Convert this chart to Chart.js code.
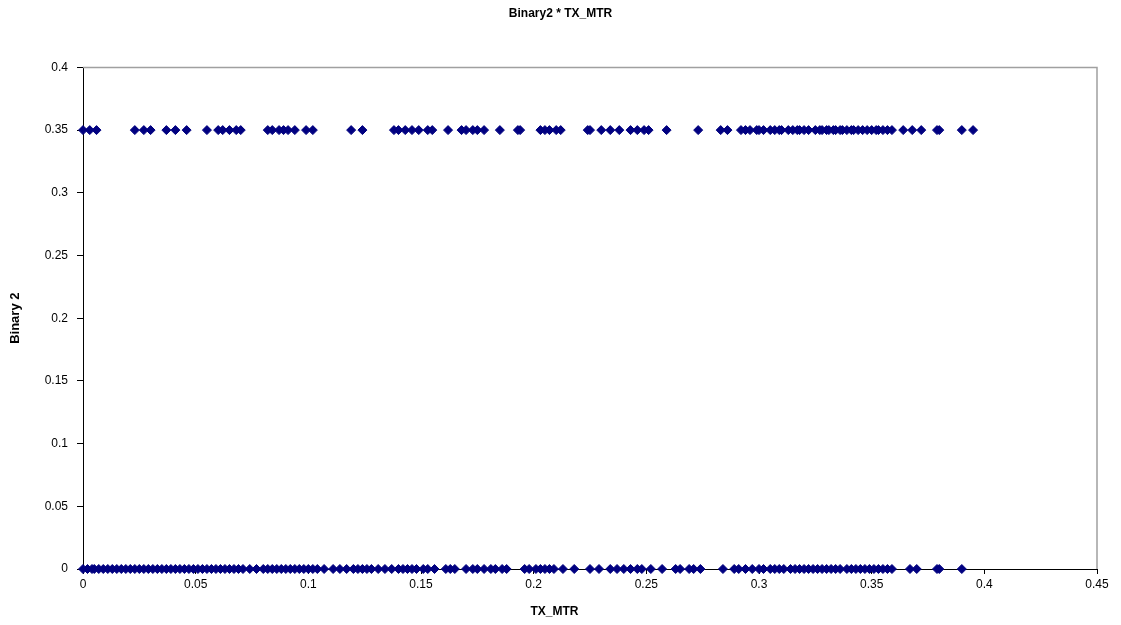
<!DOCTYPE html>
<html>
<head>
<meta charset="utf-8">
<title>Binary2 * TX_MTR</title>
<script src="https://cdn.jsdelivr.net/npm/chart.js@4.4.1/dist/chart.umd.min.js"></script>
<style>
  html, body { margin: 0; padding: 0; background: #fff; }
  #wrap { width: 1121px; height: 625px; }
</style>
</head>
<body>
<div id="wrap"><canvas id="chart" width="1121" height="625"></canvas></div>
<script>
// TX_MTR values, for the points at Binary2 = 0.35
const topX = [
  0.000, 0.003, 0.006, 0.023, 0.027, 0.030, 0.037, 0.041, 0.046, 0.055,
  0.060, 0.062, 0.065, 0.068, 0.070, 0.082, 0.084, 0.087, 0.089, 0.091,
  0.094, 0.099, 0.102, 0.119, 0.124, 0.138, 0.140, 0.143, 0.146, 0.149,
  0.153, 0.155, 0.162, 0.168, 0.170, 0.173, 0.175, 0.178, 0.185, 0.193,
  0.194, 0.203, 0.205, 0.207, 0.210, 0.212, 0.224, 0.225, 0.230, 0.234,
  0.238, 0.243, 0.246, 0.249, 0.251, 0.259, 0.273, 0.283, 0.286, 0.292,
  0.294, 0.296, 0.299, 0.300, 0.302, 0.305, 0.307, 0.309, 0.310, 0.313,
  0.315, 0.317, 0.318, 0.320, 0.322, 0.325, 0.327, 0.328, 0.330, 0.331,
  0.333, 0.334, 0.336, 0.337, 0.339, 0.341, 0.342, 0.344, 0.346, 0.348,
  0.350, 0.352, 0.353, 0.355, 0.357, 0.359, 0.364, 0.368, 0.372, 0.379,
  0.380, 0.390, 0.395
];
const topY = 0.35;

// TX_MTR values for the points at Binary2 = 0
const bottomX = [
  0.000, 0.002, 0.004, 0.005, 0.007, 0.009, 0.011, 0.013, 0.015, 0.017,
  0.019, 0.021, 0.023, 0.025, 0.027, 0.029, 0.031, 0.033, 0.035, 0.037,
  0.039, 0.041, 0.043, 0.045, 0.047, 0.049, 0.051, 0.053, 0.055, 0.057,
  0.059, 0.061, 0.063, 0.065, 0.067, 0.069, 0.071, 0.074, 0.077, 0.080,
  0.082, 0.084, 0.086, 0.088, 0.090, 0.092, 0.094, 0.096, 0.098, 0.100,
  0.102, 0.104, 0.107, 0.111, 0.114, 0.117, 0.120, 0.122, 0.124, 0.126,
  0.128, 0.131, 0.134, 0.137, 0.140, 0.142, 0.144, 0.146, 0.148, 0.151,
  0.153, 0.156, 0.161, 0.163, 0.165, 0.170, 0.173, 0.175, 0.178, 0.181,
  0.183, 0.186, 0.188, 0.196, 0.198, 0.201, 0.203, 0.205, 0.207, 0.209,
  0.213, 0.218, 0.225, 0.229, 0.234, 0.237, 0.240, 0.243, 0.246, 0.248,
  0.252, 0.257, 0.263, 0.265, 0.269, 0.271, 0.274, 0.284, 0.289, 0.291,
  0.294, 0.297, 0.300, 0.302, 0.305, 0.307, 0.309, 0.311, 0.314, 0.316,
  0.318, 0.320, 0.322, 0.324, 0.326, 0.328, 0.330, 0.332, 0.334, 0.336,
  0.339, 0.341, 0.343, 0.345, 0.347, 0.349, 0.351, 0.353, 0.355, 0.357,
  0.359, 0.367, 0.370, 0.379, 0.380, 0.390
];
const bottomY = 0;

const xTicks = [0, 0.05, 0.1, 0.15, 0.2, 0.25, 0.3, 0.35, 0.4, 0.45];
const yTicks = [0, 0.05, 0.1, 0.15, 0.2, 0.25, 0.3, 0.35, 0.4];
const xTitle = 'TX_MTR';

const points = [
  ...topX.map((x) => ({ x, y: topY })),
  ...bottomX.map((x) => ({ x, y: bottomY })),
];

const FONT = '"Liberation Sans", Arial, sans-serif';

// gray frame on the top and right of the plot area,
// and the x axis title, centred on the whole picture like the reference
const frame = {
  id: 'frame',
  beforeDatasetsDraw(chart) {
    const { ctx, chartArea: a } = chart;
    ctx.save();
    ctx.strokeStyle = '#a0a0a0';
    ctx.lineWidth = 1.5;
    ctx.beginPath();
    ctx.moveTo(a.left, a.top);
    ctx.lineTo(a.right, a.top);
    ctx.lineTo(a.right, a.bottom);
    ctx.stroke();
    ctx.restore();
  },
  afterDraw(chart) {
    const { ctx } = chart;
    ctx.save();
    ctx.fillStyle = '#000';
    ctx.font = `bold 12px ${FONT}`;
    ctx.textAlign = 'center';
    ctx.textBaseline = 'middle';
    ctx.fillText(xTitle, chart.width / 2 - 6, 612);
    ctx.restore();
  },
};

new Chart(document.getElementById('chart'), {
  type: 'scatter',
  data: {
    datasets: [{
      label: 'Binary2',
      data: points,
      pointStyle: 'rectRot',
      pointRadius: 4.5,
      pointHoverRadius: 4.5,
      backgroundColor: '#000080',
      borderColor: '#000080',
      borderWidth: 1,
      clip: false,
    }],
  },
  options: {
    responsive: false,
    animation: false,
    layout: { padding: 0 },
    plugins: {
      legend: { display: false },
      tooltip: { enabled: false },
      title: {
        display: true,
        text: 'Binary2 * TX_MTR',
        color: '#000',
        font: { family: FONT, size: 12, weight: 'bold' },
        padding: { top: 6, bottom: 47 },
      },
    },
    scales: {
      x: {
        type: 'linear',
        min: 0,
        max: 0.45,
        afterBuildTicks: (s) => { s.ticks = xTicks.map((v) => ({ value: v })); },
        afterFit: (s) => { s.height = 56; },
        ticks: {
          color: '#000',
          font: { family: FONT, size: 12 },
          padding: 3,
          maxRotation: 0,
          callback: (v) => String(v),
        },
        grid: { drawOnChartArea: false, drawTicks: true, tickLength: 5, color: '#000' },
        border: { color: '#000', width: 1 },
        title: { display: false },
      },
      y: {
        type: 'linear',
        min: 0,
        max: 0.4,
        afterBuildTicks: (s) => { s.ticks = yTicks.map((v) => ({ value: v })); },
        afterFit: (s) => { s.width = 83; },
        ticks: {
          color: '#000',
          font: { family: FONT, size: 12 },
          padding: 9,
          callback: (v) => String(v),
        },
        grid: { drawOnChartArea: false, drawTicks: true, tickLength: 6, color: '#000' },
        border: { color: '#000', width: 1 },
        title: {
          display: true,
          text: 'Binary 2',
          color: '#000',
          font: { family: FONT, size: 13, weight: 'bold' },
          padding: { top: 8, bottom: 0 },
        },
      },
      // empty strip on the right so the plot ends where the reference does
      yRight: {
        type: 'linear',
        position: 'right',
        display: true,
        afterFit: (s) => { s.width = 24; },
        ticks: { display: false },
        grid: { display: false },
        border: { display: false },
      },
    },
  },
  plugins: [frame],
});
</script>
</body>
</html>
